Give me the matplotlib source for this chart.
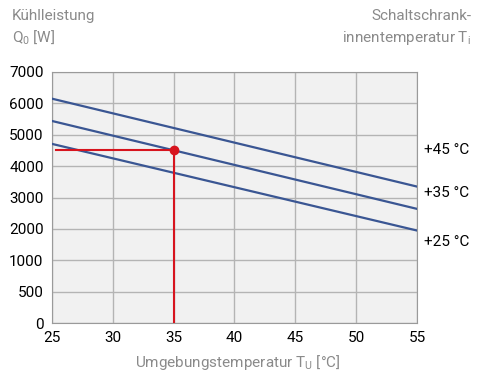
import matplotlib
matplotlib.use("Agg")
import matplotlib.pyplot as plt
import numpy as np

plt.rcParams['font.family'] = ['Roboto', 'DejaVu Sans']
plt.rcParams['mathtext.fontset'] = 'custom'
plt.rcParams['mathtext.rm'] = 'Roboto'
plt.rcParams['mathtext.it'] = 'Roboto'

# Umgebungstemperatur (x) und Kühlleistung je Innentemperatur
t_u = [25, 55]
q_45 = [6150, 3350]
q_35 = [5440, 2640]
q_25 = [4710, 1950]
kurven = ['+45 °C', '+35 °C', '+25 °C']

# Beispielpunkt
bsp_t = 35
bsp_q = 4500

y_ticks = [0, 500, 1000, 2000, 3000, 4000, 5000, 6000, 7000]
x_ticks = [25, 30, 35, 40, 45, 50, 55]


def pos(q):
    # nichtlineare Achse: 0..1000 in 500er-Schritten, danach 1000er
    q = np.asarray(q, dtype=float)
    return np.where(q <= 1000, q / 500.0, q / 1000.0 + 1)


grey = '#8a8a8a'
blue = '#3a5693'
red = '#d7141e'

fig = plt.figure(figsize=(4.9, 3.87), dpi=100)
ax = fig.add_axes([0.106, 0.165, 0.745, 0.649])
ax.set_facecolor('#f1f1f1')

for q in (q_45, q_35, q_25):
    ax.plot(t_u, pos(q), color=blue, lw=1.6, zorder=3)

ax.plot([t_u[0] + 0.3, bsp_t], pos([bsp_q, bsp_q]), color=red, lw=1.5, zorder=4)
ax.plot([bsp_t, bsp_t], pos([bsp_q, 0]), color=red, lw=1.5, zorder=4)
ax.plot([bsp_t], pos([bsp_q]), 'o', color=red, ms=6, zorder=5)

ax.set_xlim(25, 55)
ax.set_ylim(0, 8)
ax.set_xticks(x_ticks)
ax.set_xticklabels([str(v) for v in x_ticks])
ax.set_yticks(pos(y_ticks))
ax.set_yticklabels([str(v) for v in y_ticks])
ax.tick_params(length=0, labelsize=11, pad=6, colors='black')
ax.grid(True, color='#b4b4b4', lw=1.0)
ax.set_axisbelow(True)
for s in ax.spines.values():
    s.set_color('#9a9a9a')

for lab, yy in zip(kurven, [0.689, 0.518, 0.323]):
    ax.text(1.02, yy, lab, transform=ax.transAxes, fontsize=11,
            va='center', ha='left')

fig.text(0.024, 0.958, 'Kühlleistung', color=grey, fontsize=11, va='center')
fig.text(0.024, 0.905, r'Q$_0$ [W]', color=grey, fontsize=11, va='center')
fig.text(0.962, 0.958, 'Schaltschrank-', color=grey, fontsize=11,
         va='center', ha='right')
fig.text(0.962, 0.902, r'innentemperatur T$_\mathrm{i}$', color=grey,
         fontsize=11, va='center', ha='right')
fig.text(0.486, 0.064, r'Umgebungstemperatur T$_\mathrm{U}$ [°C]', color=grey,
         fontsize=11, va='center', ha='center')

plt.savefig('out.png', dpi=100)
